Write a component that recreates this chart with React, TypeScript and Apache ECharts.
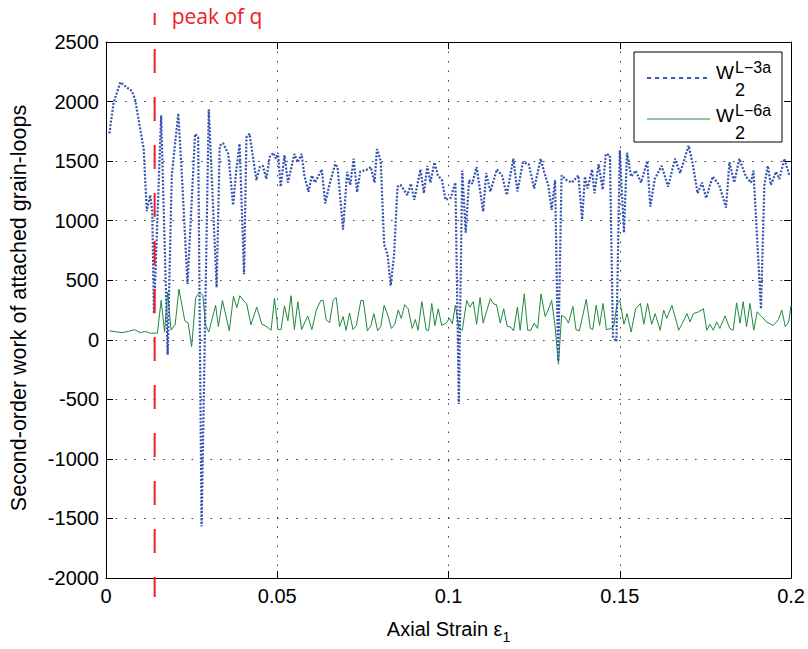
import { useEffect, useRef } from "react";
import * as echarts from "echarts";

// Series W2^{L-3a} (blue dotted)
const strainA = [
  0.001, 0.0022, 0.0042, 0.0056, 0.0076, 0.0085, 0.011, 0.0119, 0.0129, 0.0135, 0.014,
  0.0161, 0.018, 0.0192, 0.0211, 0.0221, 0.0238, 0.026, 0.0269, 0.0279, 0.03, 0.0323,
  0.0332, 0.0342, 0.0357, 0.0371, 0.038, 0.039, 0.0403, 0.041, 0.0419, 0.0439, 0.0449,
  0.0458, 0.0468, 0.0478, 0.0488, 0.0496, 0.0502, 0.051, 0.0521, 0.0531, 0.055, 0.056,
  0.0571, 0.0579, 0.0591, 0.0601, 0.061, 0.063, 0.064, 0.0652, 0.0669, 0.0676, 0.0692,
  0.0704, 0.0713, 0.0723, 0.0733, 0.0742, 0.0762, 0.0773, 0.0784, 0.0791, 0.0802, 0.0812,
  0.0822, 0.0831, 0.0841, 0.0851, 0.086, 0.088, 0.089, 0.09, 0.0918, 0.0928, 0.0938,
  0.0947, 0.0959, 0.0969, 0.0981, 0.0991, 0.1006, 0.102, 0.103, 0.104, 0.105, 0.106,
  0.1069, 0.1082, 0.1101, 0.111, 0.1122, 0.1141, 0.1156, 0.117, 0.1189, 0.1201, 0.1217,
  0.1234, 0.125, 0.1269, 0.1279, 0.1291, 0.1301, 0.1311, 0.132, 0.133, 0.1345, 0.136,
  0.1379, 0.139, 0.1398, 0.1406, 0.1419, 0.1426, 0.1438, 0.145, 0.1459, 0.1471, 0.148,
  0.149, 0.15, 0.1512, 0.1521, 0.1533, 0.1546, 0.1562, 0.158, 0.1589, 0.1602, 0.1622,
  0.1641, 0.1661, 0.1676, 0.1701, 0.1713, 0.1727, 0.174, 0.1752, 0.1771, 0.179, 0.181,
  0.182, 0.1834, 0.1849, 0.1868, 0.1883, 0.189, 0.1912, 0.1922, 0.1932, 0.1941, 0.1956,
  0.1966, 0.198, 0.1995,
];
const workA = [
  1733, 1990, 2162, 2129, 2088, 2018, 1603, 1080, 1215, 1080, 220,
  1885, -125, 1380, 1900, 1410, 468, 1728, 1700, -1567, 1935, 440,
  1630, 1650, 1560, 1130, 1410, 1645, 550, 1700, 1730, 1340, 1450,
  1460, 1350, 1535, 1570, 1520, 1570, 1285, 1550, 1320, 1560, 1490,
  1560, 1380, 1243, 1380, 1320, 1430, 1146, 1300, 1475, 1450, 925,
  1410, 1300, 1520, 1240, 1410, 1430, 1450, 1320, 1600, 1500, 800,
  715, 455, 715, 1285, 1300, 1215, 1310, 1175, 1430, 1230, 1460,
  1320, 1490, 1380, 1340, 1175, 1190, 1320, -540, 1420, 900, 1340,
  1310, 1450, 1077, 1400, 1245, 1430, 1380, 1215, 1520, 1245, 1490,
  1475, 1270, 1520, 1410, 1300, 1090, 1340, -180, 1380, 1340, 1320,
  1380, 1010, 1370, 1270, 1430, 1230, 1475, 1260, 1560, 1550, 25,
  -15, 1590, 900, 1570, 1370, 1420, 1320, 1500, 1118, 1350, 1460,
  1285, 1520, 1400, 1630, 1475, 1230, 1320, 1190, 1370, 1300, 1110,
  1490, 1320, 1520, 1370, 1320, 1420, 260, 1300, 1460, 1300, 1410,
  1350, 1520, 1380,
];

// Series W2^{L-6a} (green solid)
const strainB = [
  0.001, 0.0046, 0.0066, 0.0083, 0.01, 0.0116, 0.013, 0.015, 0.0161, 0.0171, 0.018,
  0.019, 0.0202, 0.0213, 0.023, 0.024, 0.025, 0.0262, 0.0274, 0.0283, 0.029, 0.03,
  0.032, 0.0328, 0.034, 0.036, 0.0372, 0.0382, 0.0391, 0.0404, 0.0411, 0.0423, 0.044,
  0.0455, 0.0467, 0.0482, 0.0492, 0.0502, 0.0511, 0.0521, 0.0531, 0.054, 0.055, 0.056,
  0.0571, 0.0589, 0.0601, 0.0614, 0.0627, 0.0634, 0.0643, 0.0653, 0.0663, 0.0672, 0.0682,
  0.0692, 0.0701, 0.0711, 0.0721, 0.0731, 0.0744, 0.0751, 0.0763, 0.0773, 0.0782, 0.0793,
  0.0802, 0.0812, 0.0824, 0.0833, 0.0843, 0.0853, 0.0862, 0.0872, 0.0882, 0.0894, 0.0903,
  0.0911, 0.0922, 0.0935, 0.0942, 0.0951, 0.096, 0.097, 0.098, 0.0993, 0.1003, 0.1011,
  0.102, 0.103, 0.104, 0.1053, 0.1062, 0.1072, 0.1082, 0.1092, 0.1101, 0.1122, 0.1132,
  0.114, 0.1151, 0.1161, 0.1171, 0.1182, 0.119, 0.1201, 0.1209, 0.1221, 0.1231, 0.124,
  0.125, 0.126, 0.127, 0.1282, 0.1291, 0.1301, 0.1311, 0.1321, 0.133, 0.134, 0.135,
  0.1363, 0.1372, 0.1382, 0.1392, 0.1402, 0.1414, 0.1421, 0.1431, 0.1441, 0.1451, 0.1461,
  0.1475, 0.1482, 0.1492, 0.15, 0.1512, 0.1521, 0.1533, 0.1546, 0.156, 0.157, 0.1581,
  0.1593, 0.1603, 0.1618, 0.1628, 0.1637, 0.1652, 0.1672, 0.1682, 0.1696, 0.1705, 0.1715,
  0.173, 0.1744, 0.1754, 0.1763, 0.1773, 0.1783, 0.1792, 0.1807, 0.1821, 0.1831, 0.1841,
  0.1851, 0.186, 0.187, 0.188, 0.1891, 0.1901, 0.1914, 0.1928, 0.1948, 0.1963, 0.1973,
  0.1983, 0.1993, 0.2,
];
const workB = [
  75, 60, 70, 85, 60, 70, 55, 55, 330, 65, 400,
  80, 130, 425, 160, 140, -58, 355, 400, 370, 130, 65,
  290, 110, 330, 75, 365, 270, 370, 320, 300, 125, 275,
  130, 115, 80, 350, 85, 85, 285, 160, 370, 85, 320,
  85, 200, 85, 250, 330, 330, 165, 145, 330, 355, 110,
  195, 80, 225, 85, 120, 330, 330, 75, 115, 220, 75,
  110, 290, 195, 95, 130, 250, 180, 295, 260, 95, 170,
  80, 320, 80, 80, 305, 120, 260, 120, 140, 180, 135,
  290, 95, 80, 330, 275, 320, 130, 355, 140, 345, 300,
  295, 140, 260, 115, 105, 75, 275, 80, 385, 80, 80,
  140, 95, 385, 195, 250, 330, 110, -205, 205, 190, 140,
  280, 85, 75, 205, 340, 95, 85, 290, 120, 305, 85,
  95, 110, 305, 330, 130, 220, 65, 260, 305, 130, 305,
  130, 220, 80, 250, 180, 290, 80, 135, 220, 150, 220,
  235, 260, 80, 130, 80, 150, 95, 200, 95, 80, 310,
  140, 320, 110, 305, 80, 235, 195, 150, 120, 170, 250,
  110, 150, 290,
];

const peakStrain = 0.0142;
const seriesNames = ["W2 L-3a", "W2 L-6a"];
const legendSup = ["L\u22123a", "L\u22126a"];

const BLUE = "#3352b0";
const GREEN = "#1f8a3e";
const RED = "#ee2027";
const FONT = '"Liberation Sans", Arial, sans-serif';

const fmt = (v: number) => String(parseFloat(v.toFixed(4)));

export default function App() {
  const ref = useRef<HTMLDivElement>(null);
  useEffect(() => {
    const chart = echarts.init(ref.current!, null, { renderer: "svg" });
    const dataA = strainA.map((x, i) => [x, workA[i]]);
    const dataB = strainB.map((x, i) => [x, workB[i]]);
    const grid = { left: 104, right: 16, top: 42, bottom: 65 };
    const dotted = { color: "#444", width: 1, type: [1.6, 7.9] as number[] };
    const sideAxis = {
      type: "value",
      axisLine: { show: true, onZero: false, lineStyle: { color: "#000", width: 1 } },
      axisTick: { show: true, inside: true, length: 7, lineStyle: { color: "#000" } },
      splitLine: { show: false },
      axisLabel: { show: false },
    };
    chart.setOption({
      animation: false,
      backgroundColor: "#fff",
      grid: { ...grid, show: false },
      xAxis: [
        {
          type: "value",
          min: 0,
          max: 0.2,
          interval: 0.05,
          position: "bottom",
          axisLine: { show: true, onZero: false, lineStyle: { color: "#000", width: 1 } },
          axisTick: { show: true, inside: true, length: 7, lineStyle: { color: "#000" } },
          splitLine: { show: true, lineStyle: dotted },
          axisLabel: { color: "#000", fontSize: 20, fontFamily: FONT, margin: 8, formatter: fmt },
          name: "{a|Axial Strain \u03b5}{s|1}",
          nameLocation: "middle",
          nameGap: 36,
          nameTextStyle: {
            rich: {
              a: { fontSize: 20, fontFamily: FONT, color: "#000", lineHeight: 30 },
              s: { fontSize: 14, fontFamily: FONT, color: "#000", verticalAlign: "bottom" },
            },
          },
        },
        { ...sideAxis, min: 0, max: 0.2, interval: 0.05, position: "top" },
      ],
      yAxis: [
        {
          type: "value",
          min: -2000,
          max: 2500,
          interval: 500,
          position: "left",
          axisLine: { show: true, onZero: false, lineStyle: { color: "#000", width: 1 } },
          axisTick: { show: true, inside: true, length: 7, lineStyle: { color: "#000" } },
          splitLine: { show: true, lineStyle: dotted },
          axisLabel: { color: "#000", fontSize: 20, fontFamily: FONT, margin: 7, formatter: fmt },
          name: "Second-order work of attached grain-loops",
          nameLocation: "middle",
          nameGap: 76,
          nameTextStyle: { color: "#000", fontSize: 21.5, fontFamily: FONT, padding: [0, 0, 0, 4] },
        },
        { ...sideAxis, min: -2000, max: 2500, interval: 500, position: "right" },
      ],
      series: [
        {
          name: seriesNames[0],
          type: "line",
          xAxisIndex: 0,
          yAxisIndex: 0,
          data: dataA,
          showSymbol: false,
          symbol: "none",
          z: 3,
          lineStyle: { color: BLUE, width: 2.2, type: [2, 1.6] },
        },
        {
          name: seriesNames[1],
          type: "line",
          xAxisIndex: 0,
          yAxisIndex: 0,
          data: dataB,
          showSymbol: false,
          symbol: "none",
          z: 2,
          lineStyle: { color: GREEN, width: 1 },
        },
      ],
    });

    const px = chart.convertToPixel({ xAxisIndex: 0 }, peakStrain) as number;
    chart.setOption({
      graphic: [
        {
          type: "line",
          z: 100,
          shape: { x1: px, y1: 13, x2: px, y2: 597 },
          style: { stroke: RED, lineWidth: 2, lineDash: [24, 24], lineDashOffset: 12 },
        },
        {
          type: "text",
          z: 100,
          x: px + 17,
          y: 5,
          style: {
            text: "peak of q",
            fill: RED,
            fontSize: 21,
            fontFamily: '"Open Sans", sans-serif',
          },
        },
        {
          type: "group",
          z: 100,
          x: 634,
          y: 52,
          children: [
            {
              type: "rect",
              z: 100,
              shape: { x: 0, y: 0, width: 148, height: 90 },
              style: { fill: "#fff", stroke: "#000", lineWidth: 1 },
            },
            {
              type: "line",
              z: 101,
              shape: { x1: 13, y1: 26, x2: 76, y2: 26 },
              style: { stroke: BLUE, lineWidth: 2, lineDash: [4, 4] },
            },
            {
              type: "line",
              z: 101,
              shape: { x1: 13, y1: 67, x2: 76, y2: 67 },
              style: { stroke: GREEN, lineWidth: 1 },
            },
            ...[0, 1].flatMap((k) => [
              {
                type: "text",
                z: 101,
                x: 82,
                y: 10.5 + k * 43,
                style: { text: "W", fill: "#000", fontSize: 19, fontFamily: FONT },
              },
              {
                type: "text",
                z: 101,
                x: 101,
                y: 7 + k * 43,
                style: { text: legendSup[k], fill: "#000", fontSize: 16, fontFamily: FONT },
              },
              {
                type: "text",
                z: 101,
                x: 101,
                y: 29 + k * 43,
                style: { text: "2", fill: "#000", fontSize: 18, fontFamily: FONT },
              },
            ]),
          ],
        },
      ],
    });
    return () => chart.dispose();
  }, []);
  return (
    <div
      ref={ref}
      style={{ position: "fixed", left: 0, top: 0, width: 808, height: 649, background: "#fff" }}
    />
  );
}
